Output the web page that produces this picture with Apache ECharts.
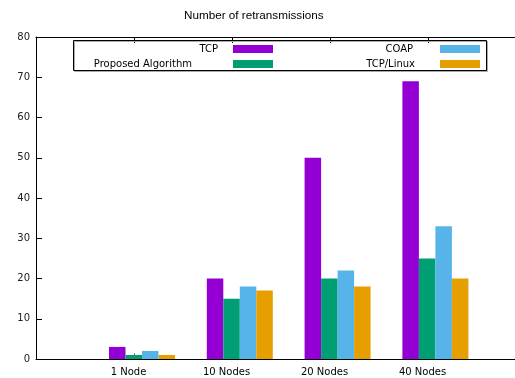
<!DOCTYPE html>
<html><head><meta charset="utf-8">
<script src="https://cdn.jsdelivr.net/npm/echarts@6/dist/echarts.min.js"></script>
<style>html,body{margin:0;padding:0;background:#fff}#c{width:515px;height:378px}</style>
</head><body><div id="c"></div>
<script>
const categories = ['1 Node', '10 Nodes', '20 Nodes', '40 Nodes'];
const seriesNames = ['TCP', 'Proposed Algorithm', 'COAP', 'TCP/Linux'];
const tcp = [3, 20, 50, 69];
const proposed = [1, 15, 20, 25];
const coap = [2, 18, 22, 33];
const tcpLinux = [1, 17, 18, 20];
const yMin = 0, yMax = 80, yStep = 10;
const colors = ['#9400D3', '#009E73', '#56B4E9', '#E69F00'];
const values = [tcp, proposed, coap, tcpLinux];

const FONT = 'DejaVu Sans';
const chart = echarts.init(document.getElementById('c'), null, {renderer: 'canvas'});

function legendFor(name, right, top, gap) {
  return {
    data: [name], right: right, top: top, padding: 0, align: 'right',
    itemWidth: 40, itemHeight: 8, icon: 'rect', selectedMode: false,
    textStyle: {fontFamily: FONT, fontSize: 10, color: '#000', padding: [0, gap, 0, 0]}
  };
}

chart.setOption({
  animation: false,
  backgroundColor: '#fff',
  title: {
    text: 'Number of retransmissions', left: 184, top: 10, padding: 0,
    textStyle: {fontFamily: 'Liberation Sans', fontSize: 11.7, fontWeight: 'normal', color: '#000'}
  },
  legend: [
    legendFor('TCP', 242, 44, 10),
    legendFor('Proposed Algorithm', 242, 59, 36),
    legendFor('COAP', 35, 44, 22),
    legendFor('TCP/Linux', 35, 59, 20)
  ],
  graphic: [{
    type: 'rect', z: 100, silent: true,
    shape: {x: 73.5, y: 40.5, width: 413, height: 30},
    style: {fill: 'none', stroke: '#000', lineWidth: 1, shadowColor: '#aaa', shadowOffsetX: 1, shadowOffsetY: 1, shadowBlur: 0}
  }],
  grid: [
    {left: 36, top: 37, width: 490, height: 322, outerBoundsMode: 'none', containLabel: false},
    {left: 93.1, top: 37, width: 391.2, height: 322, outerBoundsMode: 'none', containLabel: false}
  ],
  xAxis: [
    {
      type: 'value', gridIndex: 0, position: 'bottom', min: -1, max: 4, interval: 1,
      axisLine: {onZero: false, lineStyle: {color: '#000', width: 1}},
      axisTick: {inside: true, length: 6, lineStyle: {color: '#888'}},
      splitLine: {show: false},
      axisLabel: {
        fontFamily: FONT, fontSize: 10, color: '#000', margin: 8, padding: [0, 11, 0, 0],
        showMinLabel: false, showMaxLabel: false,
        formatter: v => (Number.isInteger(v) && v >= 0 && v < categories.length) ? categories[v] : ''
      }
    },
    {
      type: 'value', gridIndex: 0, position: 'top', min: -1, max: 4, interval: 1,
      axisLine: {onZero: false, lineStyle: {color: '#000', width: 1}},
      axisTick: {inside: true, length: 6, lineStyle: {color: '#000'}},
      splitLine: {show: false}, axisLabel: {show: false}
    },
    {
      type: 'category', gridIndex: 1, data: categories, show: false
    }
  ],
  yAxis: [
    {
      type: 'value', gridIndex: 0, min: yMin, max: yMax, interval: yStep, position: 'left',
      axisLine: {show: true, onZero: false, lineStyle: {color: '#000', width: 1}},
      axisTick: {show: true, inside: true, length: 6, lineStyle: {color: '#000'}},
      splitLine: {show: false},
      axisLabel: {fontFamily: FONT, fontSize: 10, color: '#222', margin: 6}
    },
    {
      type: 'value', gridIndex: 1, min: yMin, max: yMax, interval: yStep, show: false
    }
  ],
  series: seriesNames.map((n, i) => ({
    name: n, type: 'bar', xAxisIndex: 2, yAxisIndex: 1,
    data: values[i], barWidth: 16.5, barGap: '0%',
    itemStyle: {color: colors[i]}
  }))
});
</script></body></html>
